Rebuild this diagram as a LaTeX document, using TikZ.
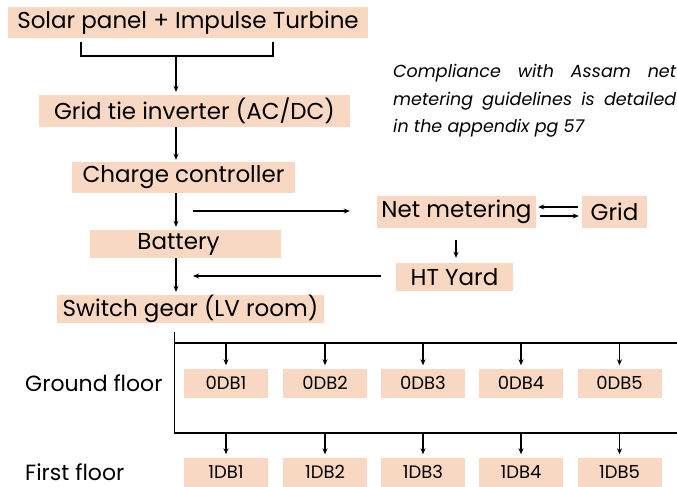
\documentclass[tikz,border=0pt]{standalone}
\usepackage{fontspec}
\setmainfont{Poppins}
\usetikzlibrary{arrows.meta}
\definecolor{peach}{HTML}{F8D8C2}
\tikzset{
  box/.style={fill=peach, inner sep=0pt, font=\fontsize{23}{26}\selectfont},
  dbbox/.style={fill=peach, inner sep=0pt, minimum width=84pt, minimum height=29pt, font=\fontsize{18}{20}\selectfont},
  arr/.style={line width=1.1pt, -{Stealth[length=6pt,width=5pt]}},
  ln/.style={line width=1.1pt},
  lbl/.style={inner sep=0pt, anchor=west, font=\fontsize{22}{25}\selectfont}
}
\begin{document}
\begin{tikzpicture}[x=1pt,y=-1pt]
\useasboundingbox (0,0) rectangle (677,487);
% main chain
\node[box, minimum width=360pt, minimum height=31pt] (solar) at (188,22.5) {Solar panel + Impulse Turbine};
\node[box, minimum width=311pt, minimum height=32pt] (gti) at (194.5,111) {Grid tie inverter (AC/DC)};
\node[box, minimum width=223pt, minimum height=31pt] (cc) at (183.5,177.5) {Charge controller};
\node[box, minimum width=191pt, minimum height=28pt] (bat) at (185.5,244) {\hspace*{-14pt}Battery};
\node[box, minimum width=267pt, minimum height=28pt] (sw) at (190.5,309) {Switch gear (LV room)};
\node[box, minimum width=159pt, minimum height=32pt] (nm) at (456.5,211.5) {Net metering};
\node[box, minimum width=65pt, minimum height=32pt] (grid) at (614.5,211.5) {Grid};
\node[box, minimum width=117pt, minimum height=28pt] (ht) at (454.5,277) {HT Yard};
% note
\node[inner sep=0pt, anchor=north west, font=\fontsize{17.5}{27.5}\selectfont\itshape] (note) at (393,64) {%
  \parbox{283pt}{\makebox[283pt][s]{Compliance with Assam net}\\
  \makebox[283pt][s]{metering guidelines is detailed}\\
  in the appendix pg 57}};
% bracket
\coordinate (bl) at (81,42);
\coordinate (br) at (273,42);
\coordinate (bm) at (176,56);
\draw[ln] (bl) -- (81,56) -- (273,56) -- (br);
\draw[arr, shorten >=3pt] (bm) -- (bm |- gti.north);
\coordinate (a1) at (176,127);
\coordinate (a2) at (176,193);
\coordinate (a3) at (176,258);
\draw[arr, shorten >=2pt] (a1) -- (a1 |- cc.north);
\draw[arr, shorten >=3pt] (a2) -- (a2 |- bat.north);
\draw[arr, shorten >=3pt] (a3) -- (a3 |- sw.north);
% side connections
\coordinate (c1) at (193,211);
\draw[arr] (c1) -- ([xshift=-27pt]nm.west |- c1);
\coordinate (h1) at (381,276);
\coordinate (h2) at (193,276);
\draw[arr] (h1) -- (h2);
\draw[arr] ([yshift=4.5pt,xshift=-4pt]grid.west) -- ([yshift=4.5pt,xshift=2pt]nm.east);
\draw[arr] ([yshift=-4.5pt,xshift=4pt]nm.east) -- ([yshift=-4.5pt,xshift=-3pt]grid.west);
\coordinate (n1) at (456,240);
\draw[arr, shorten >=5pt] (n1) -- (n1 |- ht.north);
% bus
\coordinate (vt) at (174.5,332);
\coordinate (vb) at (174.5,434);
\draw[ln] (vt) -- (vb);
\coordinate (t0) at (174.5,343);
\coordinate (t1) at (677,343);
\coordinate (u0) at (174.5,433);
\coordinate (u1) at (677,433);
\draw[ln] (t0) -- (t1);
\draw[ln] (u0) -- (u1);
% DB boxes
\foreach \i/\x in {1/226,2/325,3/423,4/521,5/619.5}{
  \node[dbbox] (g\i) at (\x,383) {0DB\i};
  \node[dbbox] (f\i) at (\x,472) {1DB\i};
  \draw[arr, shorten >=3pt] (g\i.north |- t0) -- (g\i.north);
  \draw[arr, shorten >=3pt] (f\i.north |- u0) -- (f\i.north);
}
\node[lbl] (gf) at (25,383) {Ground floor};
\node[lbl] (ff) at (25,472) {First floor};
\end{tikzpicture}
\end{document}
